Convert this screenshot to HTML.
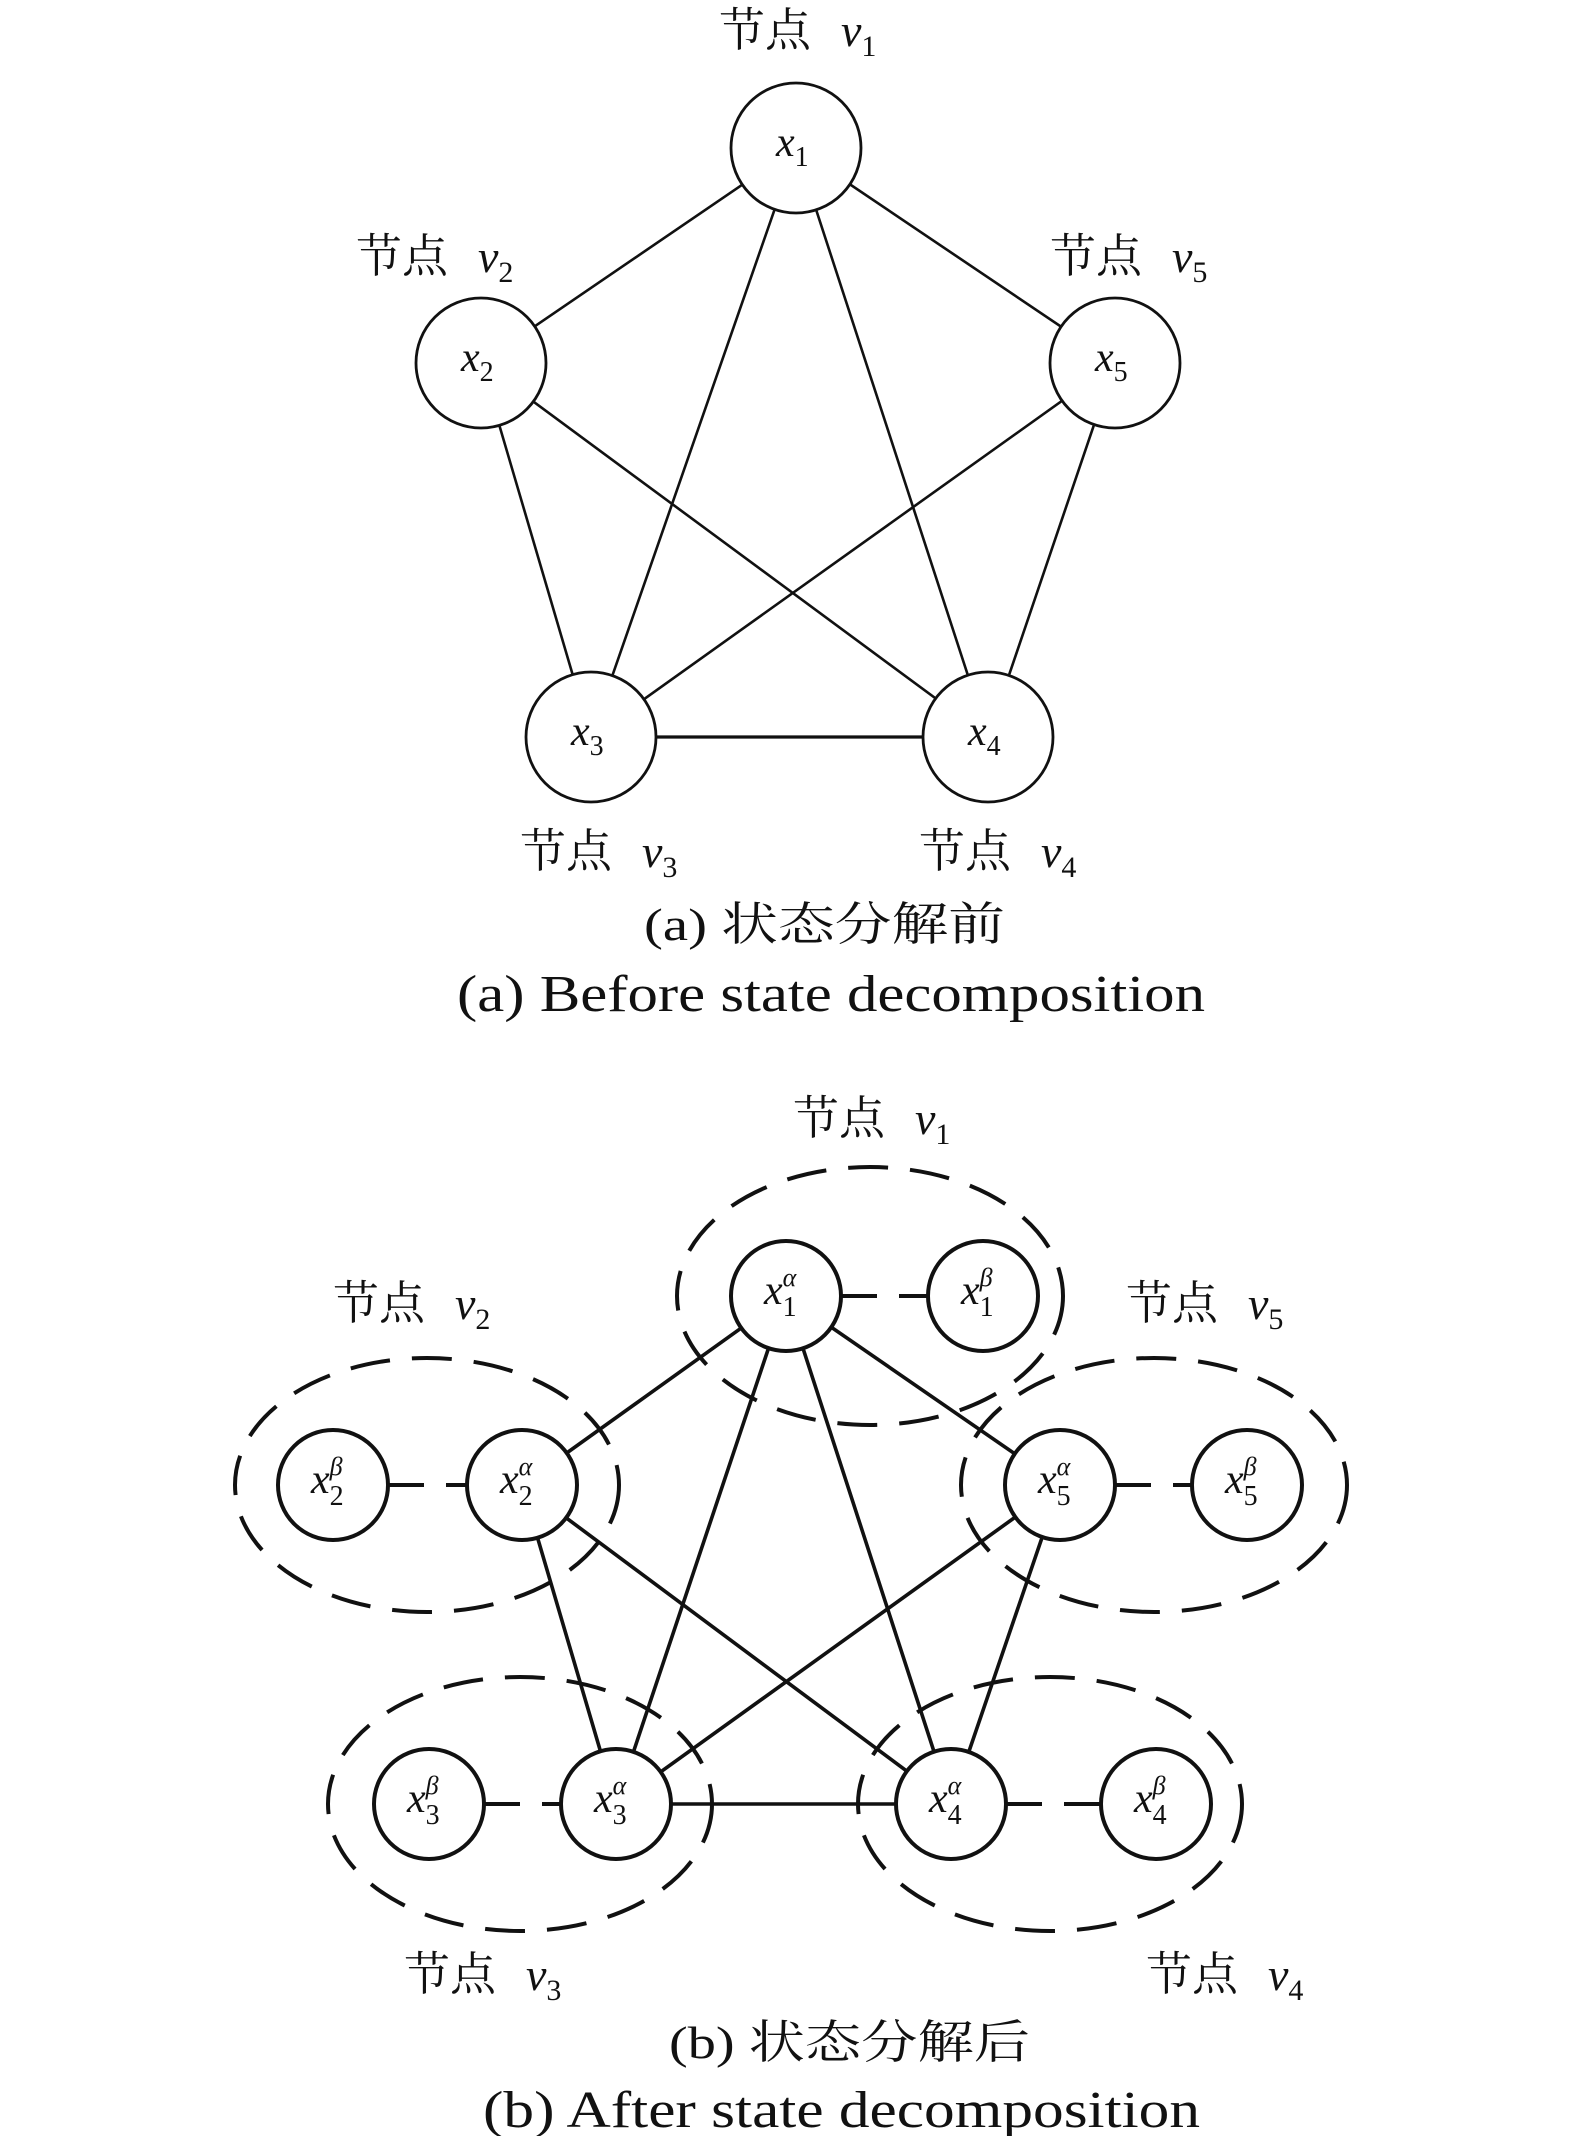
<!DOCTYPE html>
<html><head><meta charset="utf-8"><style>
html,body{margin:0;padding:0;background:#fff;}
svg{display:block;}
text{font-family:"Liberation Serif","Noto Serif CJK SC",serif;fill:#111;}
.cj{font-family:"Liberation Serif","Noto Serif CJK SC","Noto Sans CJK SC",serif;}
.it{font-style:italic;}
</style></head><body>
<svg width="1575" height="2136" viewBox="0 0 1575 2136" xmlns="http://www.w3.org/2000/svg">
<g stroke="#111" fill="none" stroke-width="2.6">
<line x1="796" y1="148" x2="481" y2="363"/>
<line x1="796" y1="148" x2="1115" y2="363"/>
<line x1="796" y1="148" x2="591" y2="737"/>
<line x1="796" y1="148" x2="988" y2="737"/>
<line x1="481" y1="363" x2="591" y2="737"/>
<line x1="481" y1="363" x2="988" y2="737"/>
<line x1="1115" y1="363" x2="591" y2="737"/>
<line x1="1115" y1="363" x2="988" y2="737"/>
<line x1="591" y1="737" x2="988" y2="737" stroke-width="3.2"/>
</g>
<g stroke="#111" fill="#fff" stroke-width="2.8">
<circle cx="796" cy="148" r="65"/>
<circle cx="481" cy="363" r="65"/>
<circle cx="1115" cy="363" r="65"/>
<circle cx="591" cy="737" r="65"/>
<circle cx="988" cy="737" r="65"/>
</g>
<g font-size="42">
<text x="776" y="156" class="it">x<tspan font-size="28" dy="10" font-style="normal">1</tspan></text>
<text x="461" y="371" class="it">x<tspan font-size="28" dy="10" font-style="normal">2</tspan></text>
<text x="1095" y="371" class="it">x<tspan font-size="28" dy="10" font-style="normal">5</tspan></text>
<text x="571" y="745" class="it">x<tspan font-size="28" dy="10" font-style="normal">3</tspan></text>
<text x="968" y="745" class="it">x<tspan font-size="28" dy="10" font-style="normal">4</tspan></text>
</g>
<g font-size="46" class="cj">
<text x="719" y="46">节点<tspan class="it" dx="30">v</tspan><tspan font-size="30" dy="10">1</tspan></text>
<text x="356" y="272">节点<tspan class="it" dx="30">v</tspan><tspan font-size="30" dy="10">2</tspan></text>
<text x="1050" y="272">节点<tspan class="it" dx="30">v</tspan><tspan font-size="30" dy="10">5</tspan></text>
<text x="520" y="867">节点<tspan class="it" dx="30">v</tspan><tspan font-size="30" dy="10">3</tspan></text>
<text x="919" y="867">节点<tspan class="it" dx="30">v</tspan><tspan font-size="30" dy="10">4</tspan></text>
<text x="644" y="940" textLength="361" lengthAdjust="spacingAndGlyphs">(a) 状态分解前</text>
<text x="457" y="1011" font-size="52" textLength="748" lengthAdjust="spacingAndGlyphs">(a) Before state decomposition</text>
</g>

<g stroke="#111" fill="none" stroke-width="3.6">
<line x1="786" y1="1296" x2="522" y2="1485"/>
<line x1="786" y1="1296" x2="1060" y2="1485"/>
<line x1="786" y1="1296" x2="616" y2="1804"/>
<line x1="786" y1="1296" x2="951" y2="1804"/>
<line x1="522" y1="1485" x2="616" y2="1804"/>
<line x1="522" y1="1485" x2="951" y2="1804"/>
<line x1="1060" y1="1485" x2="616" y2="1804"/>
<line x1="1060" y1="1485" x2="951" y2="1804"/>
<line x1="616" y1="1804" x2="951" y2="1804"/>
</g>
<g stroke="#111" fill="none" stroke-width="4" stroke-dasharray="40 22">
<ellipse cx="870" cy="1296" rx="193" ry="129"/>
<ellipse cx="427" cy="1485" rx="192" ry="127"/>
<ellipse cx="1154" cy="1485" rx="193" ry="127"/>
<ellipse cx="520" cy="1804" rx="192" ry="127"/>
<ellipse cx="1050" cy="1804" rx="192" ry="127"/>
</g>
<g stroke="#111" stroke-width="4" stroke-dasharray="36 22">
<line x1="841" y1="1296" x2="928" y2="1296"/>
<line x1="388" y1="1485" x2="467" y2="1485"/>
<line x1="1115" y1="1485" x2="1192" y2="1485"/>
<line x1="484" y1="1804" x2="561" y2="1804"/>
<line x1="1006" y1="1804" x2="1101" y2="1804"/>
</g>
<g stroke="#111" fill="#fff" stroke-width="4">
<circle cx="786" cy="1296" r="55"/>
<circle cx="983" cy="1296" r="55"/>
<circle cx="522" cy="1485" r="55"/>
<circle cx="333" cy="1485" r="55"/>
<circle cx="1060" cy="1485" r="55"/>
<circle cx="1247" cy="1485" r="55"/>
<circle cx="616" cy="1804" r="55"/>
<circle cx="429" cy="1804" r="55"/>
<circle cx="951" cy="1804" r="55"/>
<circle cx="1156" cy="1804" r="55"/>
</g>
<g font-size="42">
<text x="764" y="1304" class="it">x<tspan font-size="28" dy="12" font-style="normal">1</tspan><tspan font-size="26" dx="-14" dy="-30">α</tspan></text>
<text x="961" y="1304" class="it">x<tspan font-size="28" dy="12" font-style="normal">1</tspan><tspan font-size="26" dx="-14" dy="-30">β</tspan></text>
<text x="500" y="1493" class="it">x<tspan font-size="28" dy="12" font-style="normal">2</tspan><tspan font-size="26" dx="-14" dy="-30">α</tspan></text>
<text x="311" y="1493" class="it">x<tspan font-size="28" dy="12" font-style="normal">2</tspan><tspan font-size="26" dx="-14" dy="-30">β</tspan></text>
<text x="1038" y="1493" class="it">x<tspan font-size="28" dy="12" font-style="normal">5</tspan><tspan font-size="26" dx="-14" dy="-30">α</tspan></text>
<text x="1225" y="1493" class="it">x<tspan font-size="28" dy="12" font-style="normal">5</tspan><tspan font-size="26" dx="-14" dy="-30">β</tspan></text>
<text x="594" y="1812" class="it">x<tspan font-size="28" dy="12" font-style="normal">3</tspan><tspan font-size="26" dx="-14" dy="-30">α</tspan></text>
<text x="407" y="1812" class="it">x<tspan font-size="28" dy="12" font-style="normal">3</tspan><tspan font-size="26" dx="-14" dy="-30">β</tspan></text>
<text x="929" y="1812" class="it">x<tspan font-size="28" dy="12" font-style="normal">4</tspan><tspan font-size="26" dx="-14" dy="-30">α</tspan></text>
<text x="1134" y="1812" class="it">x<tspan font-size="28" dy="12" font-style="normal">4</tspan><tspan font-size="26" dx="-14" dy="-30">β</tspan></text>
</g>
<g font-size="46" class="cj">
<text x="793" y="1134">节点<tspan class="it" dx="30">v</tspan><tspan font-size="30" dy="10">1</tspan></text>
<text x="333" y="1319">节点<tspan class="it" dx="30">v</tspan><tspan font-size="30" dy="10">2</tspan></text>
<text x="1126" y="1319">节点<tspan class="it" dx="30">v</tspan><tspan font-size="30" dy="10">5</tspan></text>
<text x="404" y="1990">节点<tspan class="it" dx="30">v</tspan><tspan font-size="30" dy="10">3</tspan></text>
<text x="1146" y="1990">节点<tspan class="it" dx="30">v</tspan><tspan font-size="30" dy="10">4</tspan></text>
<text x="669" y="2058" textLength="361" lengthAdjust="spacingAndGlyphs">(b) 状态分解后</text>
<text x="483" y="2127" font-size="52" textLength="717" lengthAdjust="spacingAndGlyphs">(b) After state decomposition</text>
</g>
</svg>
</body></html>
